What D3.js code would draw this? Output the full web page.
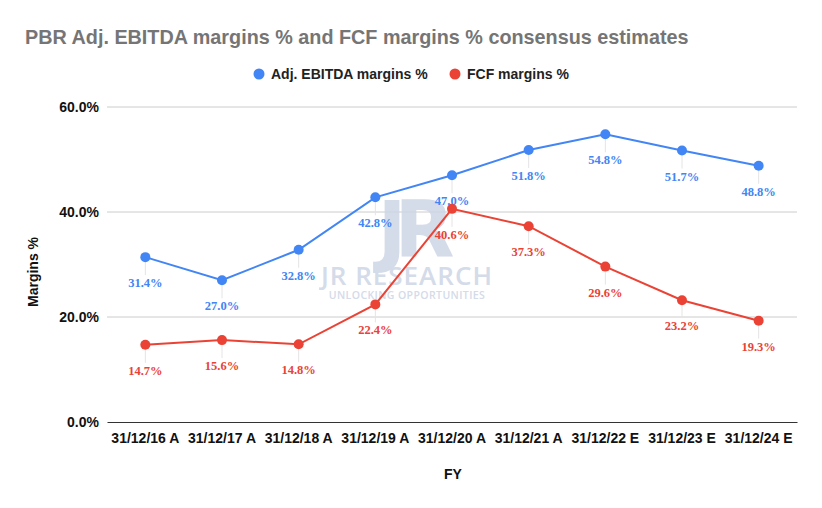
<!DOCTYPE html>
<html><head><meta charset="utf-8">
<script src="https://cdn.jsdelivr.net/npm/d3@7"></script>
<style>body{margin:0;background:#fff}</style>
</head><body>
<svg id="c" width="822" height="508"></svg>
<script>
const categories = ["31/12/16 A","31/12/17 A","31/12/18 A","31/12/19 A","31/12/20 A","31/12/21 A","31/12/22 E","31/12/23 E","31/12/24 E"];
const ebitda = [31.4,27.0,32.8,42.8,47.0,51.8,54.8,51.7,48.8];
const fcf = [14.7,15.6,14.8,22.4,40.6,37.3,29.6,23.2,19.3];
const yTicks = [0,20,40,60];
const seriesNames = ["Adj. EBITDA margins %","FCF margins %"];
const colors = ["#4285F4","#EA4335"];

const svg = d3.select("#c");
const m = {l:107, r:797, t:107, b:422};
const x = d3.scaleBand().domain(categories).range([m.l,m.r]);
const y = d3.scaleLinear().domain([0,60]).range([m.b,m.t]);
const sans = "'Liberation Sans', Arial, sans-serif";

svg.append("text").attr("x",25).attr("y",44).attr("font-family",sans)
  .attr("font-weight","bold").attr("font-size",19.8).attr("fill","#757575")
  .text("PBR Adj. EBITDA margins % and FCF margins % consensus estimates");

// legend
const leg = [{x:259},{x:455}];
seriesNames.forEach((n,i)=>{
  svg.append("circle").attr("cx",leg[i].x).attr("cy",74).attr("r",5.5).attr("fill",colors[i]);
  svg.append("text").attr("x",leg[i].x+12).attr("y",79).attr("font-family",sans)
    .attr("font-weight","bold").attr("font-size",14).attr("fill","#222").text(n);
});

// grid
svg.append("g").selectAll("line").data(yTicks.filter(d=>d>0)).join("line")
  .attr("x1",m.l).attr("x2",m.r).attr("y1",d=>y(d)).attr("y2",d=>y(d))
  .attr("stroke","#cccccc").attr("stroke-width",1);

// watermark
const wm = svg.append("g").attr("fill","#cdd5e6").attr("opacity",0.85);
wm.append("text").attr("x",410).attr("y",257).attr("text-anchor","middle")
  .attr("font-family","'DejaVu Sans', sans-serif").attr("font-weight","bold").attr("font-size",78).attr("letter-spacing",-12).text("JR");
wm.append("text").attr("x",407).attr("y",285).attr("text-anchor","middle")
  .attr("font-family","'Open Sans', sans-serif").attr("font-size",26).attr("letter-spacing",1).attr("font-weight","600").text("JR RESEARCH");
wm.append("text").attr("x",407).attr("y",299).attr("text-anchor","middle")
  .attr("font-family","'Open Sans', sans-serif").attr("font-size",10.5).attr("letter-spacing",0.4).attr("font-weight","600").text("UNLOCKING OPPORTUNITIES");

// y axis
const ya = svg.append("g").attr("transform",`translate(${m.l},0)`)
  .call(d3.axisLeft(y).tickValues(yTicks).tickSize(0).tickPadding(8).tickFormat(d=>d.toFixed(1)+"%"));
ya.select(".domain").remove();
ya.selectAll("text").attr("font-family",sans).attr("font-weight","bold").attr("font-size",14).attr("fill","#111");

// x axis
const xa = svg.append("g").attr("transform",`translate(0,${m.b})`)
  .call(d3.axisBottom(x).tickSize(0).tickPadding(11));
xa.select(".domain").attr("stroke","#333").attr("stroke-width",1.2);
xa.selectAll("text").attr("font-family",sans).attr("font-weight","bold").attr("font-size",14).attr("fill","#111");

svg.append("text").attr("x",453).attr("y",479).attr("text-anchor","middle").attr("font-family",sans)
  .attr("font-weight","bold").attr("font-size",14).attr("fill","#111").text("FY");
svg.append("text").attr("transform","translate(38,272) rotate(-90)").attr("text-anchor","middle")
  .attr("font-family",sans).attr("font-weight","bold").attr("font-size",14).attr("fill","#111").text("Margins %");

const cx = c => x(c)+x.bandwidth()/2;
[ebitda,fcf].forEach((vals,i)=>{
  const data = categories.map((c,j)=>({c,v:vals[j]}));
  const g = svg.append("g");
  g.selectAll("line.lead").data(data).join("line")
    .attr("x1",d=>cx(d.c)).attr("x2",d=>cx(d.c)).attr("y1",d=>y(d.v)+5).attr("y2",d=>y(d.v)+18)
    .attr("stroke","#e4e4e4").attr("stroke-width",1);
  g.append("path").datum(data).attr("fill","none").attr("stroke",colors[i]).attr("stroke-width",2)
    .attr("d",d3.line().x(d=>cx(d.c)).y(d=>y(d.v)));
  g.selectAll("circle").data(data).join("circle").attr("cx",d=>cx(d.c)).attr("cy",d=>y(d.v)).attr("r",5).attr("fill",colors[i]);
  g.selectAll("text").data(data).join("text").attr("x",d=>cx(d.c)).attr("y",d=>y(d.v)+30)
    .attr("text-anchor","middle").attr("font-family","'Liberation Serif', 'Times New Roman', serif")
    .attr("font-weight","bold").attr("font-size",12.5).attr("fill",colors[i]).text(d=>d.v.toFixed(1)+"%");
});
</script>
</body></html>
